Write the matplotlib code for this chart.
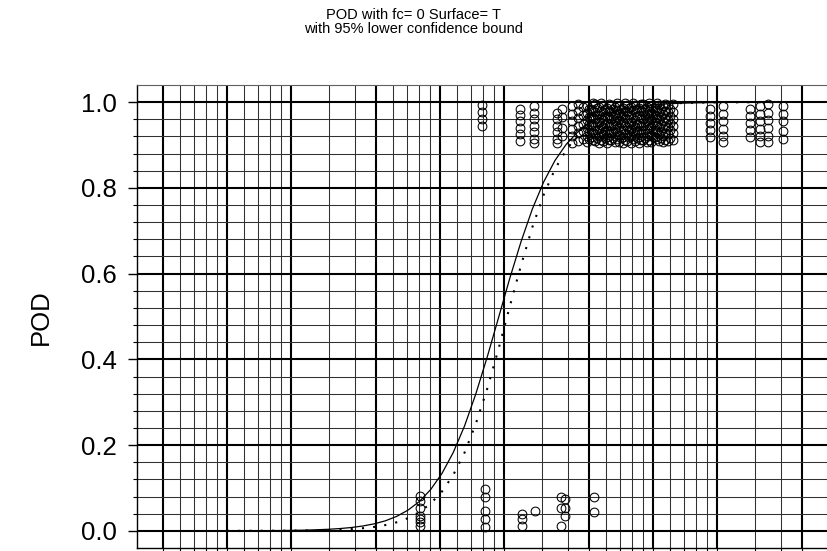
"""POD curve with 95% lower confidence bound, hit/miss data on a log size axis."""
import matplotlib

matplotlib.use("Agg")
import matplotlib.pyplot as plt

plt.rcParams["font.family"] = ["Liberation Sans", "DejaVu Sans"]

TITLE = "POD with fc= 0 Surface= T\nwith 95% lower confidence bound"
YLABEL = "POD"

# --------------------------------------------------------------------------- #
# Data
# --------------------------------------------------------------------------- #
# size grid used for the fitted curve and its lower bound
size = [1.0, 1.13, 1.277, 1.443, 1.631, 1.843, 2.083, 2.354, 2.66, 3.006,
        3.397, 3.839, 4.338, 4.902, 5.54, 6.26, 7.075, 7.995, 9.035, 10.21,
        11.54, 13.04, 14.73, 16.65, 18.81, 21.26, 24.03, 27.15, 30.68, 34.67,
        39.18, 44.28, 50.04, 56.55, 63.9, 72.21, 81.6, 92.22, 104.2, 117.8,
        133.1, 150.4, 169.9, 192.0, 217.0, 245.3, 277.2, 313.2, 354.0, 400.0]

pod_fit = [0.0001, 0.0002, 0.0003, 0.0004, 0.0006, 0.0008, 0.0012, 0.0017,
           0.0026, 0.0037, 0.0054, 0.0078, 0.0113, 0.0163, 0.0234, 0.0337,
           0.0483, 0.0683, 0.0962, 0.1337, 0.1828, 0.2447, 0.3195, 0.405,
           0.4965, 0.589, 0.675, 0.751, 0.814, 0.864, 0.902, 0.930, 0.951,
           0.9655, 0.976, 0.9834, 0.9885, 0.992, 0.9945, 0.9962, 0.9974,
           0.9982, 0.9987, 0.9991, 0.9994, 0.9996, 0.9997, 0.9998, 0.9999,
           0.9999]

pod_lower = [0.0, 0.0001, 0.0001, 0.0002, 0.0003, 0.0004, 0.0006, 0.0009,
             0.0013, 0.0019, 0.0028, 0.0042, 0.0062, 0.0091, 0.0135, 0.020,
             0.0296, 0.0435, 0.0635, 0.0915, 0.1303, 0.1824, 0.2497, 0.331,
             0.4237, 0.5235, 0.620, 0.7087, 0.784, 0.844, 0.889, 0.923, 0.947,
             0.9637, 0.9753, 0.9833, 0.9887, 0.9924, 0.9949, 0.9966, 0.9977,
             0.9984, 0.999, 0.9993, 0.9995, 0.9996, 0.9997, 0.9998, 0.9999,
             0.9999]

# hits (plotted near the top), one column per size
hit_size = [15.7, 23.8, 27.6, 35.4, 37.4, 41.7, 44.5, 46.9,
            49.0, 51.2, 53.4, 55.8, 58.2, 60.8, 63.5, 66.3, 69.2, 72.3, 75.5,
            78.8, 82.3, 85.9, 89.7, 93.7, 97.8, 102.1, 106.7, 111.4, 117.5,
            124.1, 185.0, 213.0, 285.0, 318.0, 347.0, 408.0]
hit_pod = [
    [0.993, 0.977, 0.961, 0.945],
    [0.985, 0.970, 0.955, 0.940, 0.925, 0.910],
    [0.990, 0.975, 0.960, 0.945, 0.930, 0.915, 0.905],
    [0.975, 0.960, 0.945, 0.930, 0.915, 0.905],
    [0.985, 0.965, 0.940, 0.920],
    [0.990, 0.972, 0.955, 0.938, 0.920, 0.905],
    [0.995, 0.980, 0.962, 0.945, 0.928, 0.910],
    [0.988, 0.970, 0.950, 0.932, 0.915],
    [0.992, 0.975, 0.958, 0.940, 0.922, 0.906],
    [0.985, 0.968, 0.950, 0.934, 0.918],
    [0.995, 0.978, 0.960, 0.944, 0.926, 0.909],
    [0.988, 0.971, 0.953, 0.937, 0.920, 0.904],
    [0.993, 0.976, 0.959, 0.942, 0.925, 0.910],
    [0.986, 0.968, 0.951, 0.935, 0.918, 0.905],
    [0.994, 0.977, 0.961, 0.944, 0.927, 0.912],
    [0.989, 0.972, 0.955, 0.938, 0.921, 0.906],
    [0.992, 0.975, 0.958, 0.941, 0.924, 0.908],
    [0.987, 0.970, 0.953, 0.936, 0.919, 0.904],
    [0.994, 0.978, 0.960, 0.943, 0.926, 0.910],
    [0.988, 0.971, 0.954, 0.937, 0.920, 0.905],
    [0.993, 0.976, 0.959, 0.942, 0.925, 0.909],
    [0.986, 0.969, 0.952, 0.935, 0.918, 0.904],
    [0.995, 0.978, 0.961, 0.944, 0.927, 0.911],
    [0.989, 0.972, 0.955, 0.938, 0.921, 0.906],
    [0.992, 0.975, 0.958, 0.941, 0.924, 0.908],
    [0.987, 0.970, 0.953, 0.936, 0.919],
    [0.994, 0.977, 0.960, 0.943, 0.926, 0.910],
    [0.990, 0.973, 0.956, 0.939, 0.922, 0.906],
    [0.993, 0.976, 0.959, 0.942, 0.925, 0.909],
    [0.995, 0.978, 0.961, 0.944, 0.927, 0.912],
    [0.985, 0.968, 0.951, 0.935, 0.918],
    [0.990, 0.972, 0.955, 0.938, 0.921, 0.906],
    [0.985, 0.968, 0.951, 0.935, 0.918],
    [0.990, 0.972, 0.955, 0.938, 0.921, 0.906],
    [0.995, 0.975, 0.958, 0.940, 0.922, 0.908],
    [0.990, 0.972, 0.955, 0.932, 0.915],
]

# extra hits in the crowded middle of the cluster
dense_size = [50.1, 52.3, 54.6, 57.0, 59.5, 62.1, 64.9, 67.7, 70.7, 73.9,
              77.1, 80.5, 84.1, 87.8, 91.7, 95.7, 99.9, 104.4, 109.0, 114.4,
              120.7]
dense_pod = [
    [0.984, 0.966, 0.949, 0.931, 0.914],
    [0.997, 0.980, 0.962, 0.945, 0.928, 0.911],
    [0.986, 0.969, 0.952, 0.935, 0.917],
    [0.998, 0.980, 0.963, 0.946, 0.929, 0.912],
    [0.985, 0.967, 0.950, 0.933, 0.916],
    [0.996, 0.979, 0.962, 0.945, 0.928, 0.911],
    [0.984, 0.967, 0.950, 0.933, 0.916],
    [0.998, 0.981, 0.964, 0.947, 0.930, 0.913],
    [0.985, 0.968, 0.951, 0.934, 0.917],
    [0.997, 0.980, 0.963, 0.946, 0.929, 0.912],
    [0.986, 0.969, 0.952, 0.935, 0.918],
    [0.998, 0.981, 0.964, 0.947, 0.930, 0.913],
    [0.984, 0.967, 0.950, 0.933, 0.916],
    [0.996, 0.979, 0.962, 0.945, 0.928, 0.911],
    [0.985, 0.968, 0.951, 0.934, 0.917],
    [0.997, 0.980, 0.963, 0.946, 0.929, 0.912],
    [0.986, 0.969, 0.952, 0.935, 0.918],
    [0.998, 0.981, 0.964, 0.947, 0.930, 0.913],
    [0.984, 0.967, 0.950, 0.933, 0.916],
    [0.996, 0.979, 0.962, 0.945, 0.928, 0.911],
    [0.985, 0.968, 0.951, 0.934, 0.917],
]

# misses (plotted near zero)
miss_size = [8.06, 16.3, 24.3, 28.0, 37.0, 38.6, 52.8]
miss_pod = [
    [0.082, 0.070, 0.054, 0.035, 0.027, 0.020, 0.012],
    [0.097, 0.078, 0.047, 0.027, 0.008],
    [0.039, 0.027, 0.012],
    [0.047],
    [0.078, 0.054, 0.012],
    [0.074, 0.035, 0.054],
    [0.078, 0.044],
]

# grid lines
grid_x = [0.5, 0.6, 0.7, 0.8, 0.9, 1, 1.2, 1.4, 1.6, 1.8, 2, 3, 4, 5, 6, 7, 8,
          9, 10, 12, 14, 16, 18, 20, 30, 40, 50, 60, 70, 80, 90, 100, 120,
          140, 160, 180, 200, 300, 400, 500]
major_x = [0.5, 1, 2, 5, 10, 20, 50, 100, 200, 500]
grid_y = [round(0.04 * i, 2) for i in range(26)]
major_y = [0.0, 0.2, 0.4, 0.6, 0.8, 1.0]

# --------------------------------------------------------------------------- #
fig = plt.figure(figsize=(8.27, 5.51), dpi=100)
# plot region runs off the right and bottom edges of the picture
ax = fig.add_axes([137 / 827, 3 / 551, 703 / 827, 463 / 551])
ax.set_xscale("log")
ax.set_xlim(0.378, 755)
ax.set_ylim(-0.04, 1.04)

for v in grid_x:
    if v in major_x:
        ax.axvline(v, color="black", lw=1.5, zorder=1)
    else:
        ax.axvline(v, color="#303030", lw=0.75, zorder=1)
for v in grid_y:
    if v in major_y:
        ax.axhline(v, color="black", lw=1.5, zorder=1)
    else:
        ax.axhline(v, color="#303030", lw=0.75, zorder=1)

ax.plot(size, pod_fit, color="black", lw=0.9, zorder=3)
ax.plot(size, pod_lower, color="black", lw=1.5, dashes=(1.0, 4.4), zorder=3)

circle = dict(marker="o", ls="none", ms=6.3, mfc="none", mec="black",
              mew=0.75, zorder=4)
for groups_x, groups_y in [(hit_size, hit_pod), (dense_size, dense_pod),
                           (miss_size, miss_pod)]:
    for xs, ys in zip(groups_x, groups_y):
        ax.plot([xs] * len(ys), ys, **circle)

ax.set_yticks(major_y)
ax.set_yticklabels([f"{v:.1f}" for v in major_y])
ax.set_yticks(grid_y, minor=True)
ax.set_xticks(major_x)
ax.set_xticks(grid_x, minor=True)
ax.set_xticklabels([])
ax.set_xticklabels([], minor=True)
ax.tick_params(axis="y", which="major", length=6.5, width=1.0, labelsize=18.5,
               pad=8)
ax.tick_params(axis="y", which="minor", length=3.2, width=0.8)
ax.tick_params(axis="x", which="both", length=6.5, width=0.8)
for side in ["left", "bottom"]:
    ax.spines[side].set_linewidth(1.0)
ax.spines["top"].set_linewidth(0.8)
ax.spines["top"].set_color("#606060")
ax.spines["right"].set_visible(False)

fig.text(41 / 827, 1 - 317 / 551, YLABEL, rotation=90, fontsize=18.5,
         ha="center", va="center")
fig.text(0.5, 1 - 22 / 551, TITLE, fontsize=10.5, ha="center", va="center",
         linespacing=1.05)

fig.savefig("out.png", dpi=100)
